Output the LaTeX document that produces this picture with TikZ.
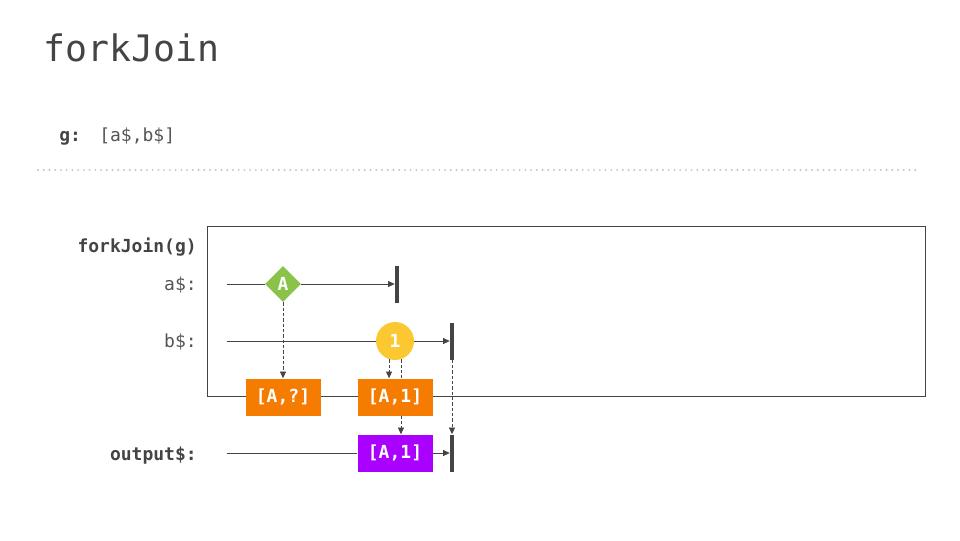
\documentclass[tikz,border=0pt]{standalone}
\usepackage{fontspec}
\setmonofont{DejaVu Sans Mono}
\usetikzlibrary{shapes.geometric, arrows.meta, positioning}
\definecolor{ink}{HTML}{444444}
\definecolor{label}{HTML}{555555}
\definecolor{dots}{HTML}{C4C4C4}
\definecolor{lime}{HTML}{8BC34A}
\definecolor{amber}{HTML}{FBC831}
\definecolor{orng}{HTML}{F57C00}
\definecolor{purp}{HTML}{AA00FF}
\def\mono{\ttfamily\fontsize{13.5}{16}\selectfont}

\begin{document}
\begin{tikzpicture}[x=0.75pt, y=-0.75pt,
    lbl/.style={anchor=base east, inner sep=0pt, text=label, font=\mono},
    lblb/.style={lbl, text=ink, font=\mono\bfseries},
    val/.style={inner sep=0pt, text=white, font=\mono\bfseries},
    cell/.style={val, minimum width=56.25pt, minimum height=27.75pt},
    stopbar/.style={fill=ink, inner sep=0pt, minimum width=3pt, minimum height=27.75pt},
    flow/.style={ink, line width=0.6pt, -{Triangle[length=5pt, width=4.5pt]}},
    hint/.style={flow, line width=0.5pt, dash pattern=on 2.5pt off 1.5pt}]
    \useasboundingbox (0,0) rectangle (960,540);

    % header
    \node[anchor=base west, inner sep=0pt, text=ink,
        font=\ttfamily\fontsize{27.4}{32}\selectfont] (title) at (43,61) {forkJoin};
    \node[anchor=base west, inner sep=0pt, text=ink, font=\mono\bfseries] (g) at (59,141) {g:};
    \node[anchor=base west, inner sep=0pt, text=label, font=\mono] (glist) at (99,141) {[a\$,b\$]};
    \draw[dots, line width=1.6pt, line cap=round, dash pattern=on 0pt off 4.3pt] (38,170) -- (920,170);

    % operator box
    \draw[ink, line width=0.75pt] (207,226) rectangle (925,396);
    \node[lblb] (op) at (197,252) {forkJoin(g)};
    \node[lbl] (alab) at (197,290) {a\$:};
    \node[lbl] (blab) at (197,347) {b\$:};
    \node[lblb] (olab) at (197,460) {output\$:};

    % streams
    \coordinate (astart) at (227,284);
    \coordinate (bstart) at (227,341);
    \coordinate (ostart) at (227,453);
    \node[stopbar] (aend) at (397,284) {};
    \node[stopbar] (bend) at (452,341) {};
    \node[stopbar] (oend) at (452,453) {};

    \node[diamond, aspect=1, fill=lime, inner sep=0pt, minimum size=27pt, val] (av) at (283,284) {A};
    \node[circle, fill=amber, inner sep=0pt, minimum size=28.5pt, val] (bv) at (395,341) {1};
    \node[cell, fill=orng] (c1) at (283,397) {[A,?]};
    \node[cell, fill=orng] (c2) at (395,397) {[A,1]};
    \node[cell, fill=purp] (ov) at (395,453) {[A,1]};

    \draw[ink, line width=0.6pt] (astart) -- (av.west);
    \draw[flow] (av.east) -- (aend.west);
    \draw[ink, line width=0.6pt] (bstart) -- (bv.west);
    \draw[flow] (bv.east) -- (bend.west);
    \draw[ink, line width=0.6pt] (ostart) -- (ov.west);
    \draw[flow] (ov.east) -- (oend.west);

    % combinations
    \draw[hint] (av.south) -- (c1.north);
    \draw[hint] (bv.-108) -- (bv.-108 |- c2.north);
    \draw[hint, -] (bv.-72) -- (bv.-72 |- c2.north);
    \draw[hint] (bv.-72 |- c2.south) -- (bv.-72 |- ov.north);
    \draw[hint] (bend.south) -- (oend.north);
\end{tikzpicture}
\end{document}
